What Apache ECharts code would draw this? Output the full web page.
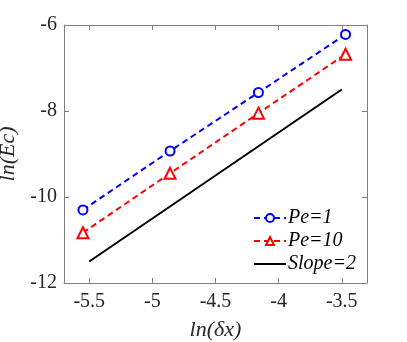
<!DOCTYPE html>
<html><head><meta charset="utf-8">
<script src="https://cdn.jsdelivr.net/npm/echarts@6/dist/echarts.min.js"></script>
<style>html,body{margin:0;padding:0;background:#fff}#c{width:407px;height:342px}</style>
</head><body><div id="c"></div>
<script>
const xValues = [-5.55, -4.86, -4.16, -3.47];
const pe1 = [-10.30, -8.93, -7.57, -6.22];
const pe10 = [-10.83, -9.45, -8.05, -6.68];
const slopeX = [-5.5, -3.5];
const slopeY = [-11.5, -7.5];
const xTicks = [-5.5, -5, -4.5, -4, -3.5];
const yTicks = [-12, -10, -8, -6];
const names = ['Pe=1', 'Pe=10', 'Slope=2'];

const font = '"Liberation Serif", "Times New Roman", serif';
const axisCol = '#808080';
const chart = echarts.init(document.getElementById('c'));
const pair = (xs, ys) => xs.map((x, i) => [x, ys[i]]);
const baseX = {
  type: 'value', min: -5.7, max: -3.3,
  axisLine: {show: true, onZero: false, lineStyle: {color: axisCol, width: 1}},
  axisTick: {show: true, inside: true, length: 5, customValues: xTicks, lineStyle: {color: axisCol}},
  splitLine: {show: false}
};
const baseY = {
  type: 'value', min: -12, max: -6, interval: 2,
  axisLine: {show: true, onZero: false, lineStyle: {color: axisCol, width: 1}},
  axisTick: {show: true, inside: true, length: 5, customValues: yTicks, lineStyle: {color: axisCol}},
  splitLine: {show: false}
};
chart.setOption({
  animation: false,
  grid: {left: 64, right: 40, top: 25, bottom: 59, containLabel: false, outerBoundsMode: 'none'},
  xAxis: [
    Object.assign({}, baseX, {position: 'bottom', name: 'ln(δx)', nameLocation: 'middle', nameGap: 36,
      nameTextStyle: {fontFamily: font, fontStyle: 'italic', fontSize: 22, color: '#262626'},
      axisLabel: {customValues: xTicks, fontFamily: font, fontSize: 20, color: '#262626', margin: 9,
        formatter: v => String(v)}}),
    Object.assign({}, baseX, {position: 'top', axisLabel: {show: false}})
  ],
  yAxis: [
    Object.assign({}, baseY, {position: 'left', name: 'ln(Ec)', nameLocation: 'middle', nameGap: 38,
      nameTextStyle: {fontFamily: font, fontStyle: 'italic', fontSize: 22, color: '#262626'},
      axisLabel: {customValues: yTicks, fontFamily: font, fontSize: 20, color: '#262626', margin: 7}}),
    Object.assign({}, baseY, {position: 'right', axisLabel: {show: false}})
  ],
  legend: {
    orient: 'vertical', left: 248, top: 203, itemGap: 3, itemWidth: 32, itemHeight: 10,
    data: [names[0], names[1], {name: names[2], icon: 'path://M0,4 L32,4 L32,6 L0,6 Z'}],
    textStyle: {fontFamily: font, fontStyle: 'italic', fontSize: 20, color: '#000', padding: [0,0,0,-3]}
  },
  series: [
    {name: names[0], type: 'line', data: pair(xValues, pe1), symbol: 'emptyCircle', symbolSize: 9,
      lineStyle: {color: '#0000ff', width: 2, type: [6, 4]}, itemStyle: {color: '#0000ff', borderWidth: 2}},
    {name: names[1], type: 'line', data: pair(xValues, pe10), symbol: 'emptyTriangle', symbolSize: 11,
      lineStyle: {color: '#ff0000', width: 2, type: [6, 4]}, itemStyle: {color: '#ff0000', borderWidth: 2}},
    {name: names[2], type: 'line', data: pair(slopeX, slopeY), symbol: 'none',
      lineStyle: {color: '#000', width: 2}, itemStyle: {color: '#000'}}
  ]
});
</script></body></html>
